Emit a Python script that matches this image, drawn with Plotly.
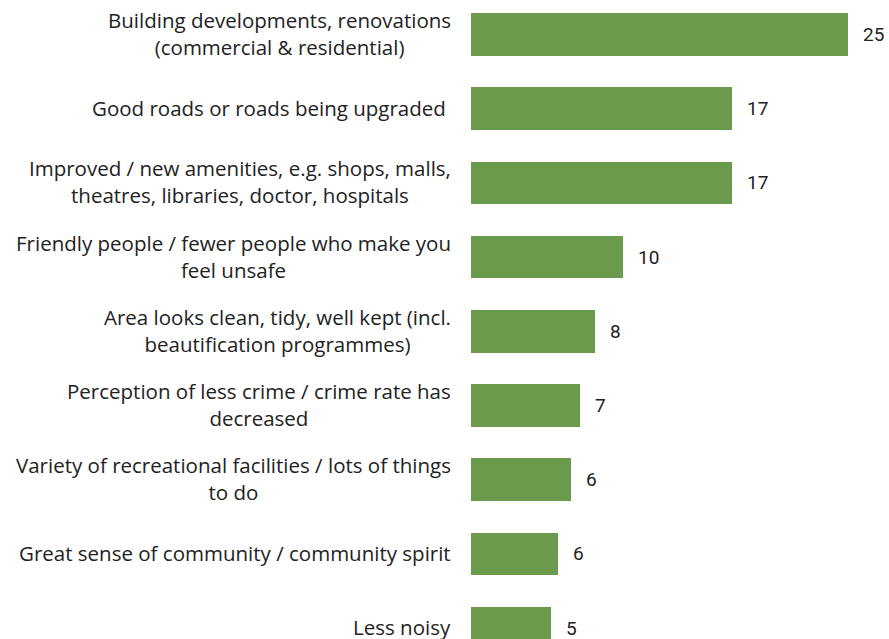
import plotly.graph_objects as go

categories = [
    "Building developments, renovations<br>(commercial & residential)",
    "Good roads or roads being upgraded ",
    "Improved / new amenities, e.g. shops, malls,<br>theatres, libraries, doctor, hospitals",
    "Friendly people / fewer people who make you<br>feel unsafe",
    "Area looks clean, tidy, well kept (incl.<br>beautification programmes)",
    "Perception of less crime / crime rate has<br>decreased",
    "Variety of recreational facilities / lots of things<br>to do",
    "Great sense of community / community spirit",
    "Less noisy",
]
values = [25.0, 17.3, 17.3, 10.1, 8.2, 7.2, 6.6, 5.8, 5.3]
value_labels = ["25", "17", "17", "10", "8", "7", "6", "6", "5"]

pos = list(range(len(categories)))
bar_color = "#6A9A4C"
text_color = "#222222"

fig = go.Figure()
fig.add_trace(go.Bar(
    x=values,
    y=pos,
    orientation="h",
    width=0.576,
    marker=dict(color=bar_color, line=dict(width=0)),
    hoverinfo="skip",
    showlegend=False,
))

# category labels, centred lines, right edge left of the bars
for p, c in zip(pos, categories):
    fig.add_annotation(
        x=0, xref="paper", y=p, yref="y",
        text=c, showarrow=False,
        xanchor="right", yanchor="middle", align="center",
        xshift=-18, yshift=1,
        font=dict(family="Open Sans", size=20.5, color=text_color),
    )

# value labels after bar ends
for p, v, t in zip(pos, values, value_labels):
    fig.add_annotation(
        x=v, y=p, text=t, showarrow=False,
        xanchor="left", yanchor="middle", xshift=13,
        font=dict(family="Roboto", size=19, color=text_color),
    )

fig.update_layout(
    width=889, height=639,
    margin=dict(l=471, r=0, t=0, b=0),
    paper_bgcolor="white", plot_bgcolor="white",
    xaxis=dict(range=[0, 27.72], visible=False, fixedrange=True),
    yaxis=dict(range=[8.147, -0.465], visible=False, fixedrange=True),
    bargap=0,
)

# drop the default body margin so the chart fills the window exactly
fig.write_html(
    "out.html",
    config={"displayModeBar": False},
    post_script="document.body.style.margin='0';document.body.style.overflow='hidden';",
)
